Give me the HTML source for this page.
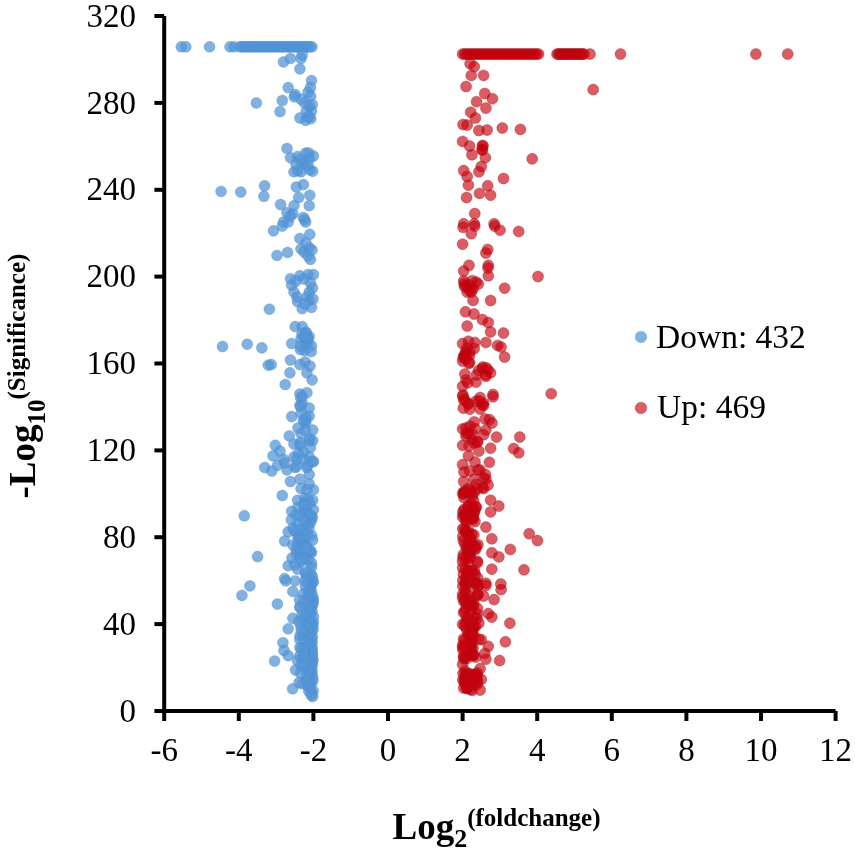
<!DOCTYPE html>
<html><head><meta charset="utf-8"><style>html,body{margin:0;padding:0;background:#fff;width:855px;height:855px;overflow:hidden}svg{display:block;will-change:transform}</style></head>
<body><svg width="855" height="855" viewBox="0 0 855 855">
<style>
.t{font-family:"Liberation Serif",serif;font-size:33px;fill:#000}
.b{font-family:"Liberation Serif",serif;font-weight:bold;fill:#000}
</style>
<rect width="855" height="855" fill="#fff"/>
<g fill="rgb(84,150,215)" fill-opacity="0.74" stroke="rgb(72,135,200)" stroke-opacity="0.3" stroke-width="1"><circle cx="181.3" cy="46.8" r="5.5"/><circle cx="185.8" cy="46.8" r="5.5"/><circle cx="209.6" cy="46.8" r="5.5"/><circle cx="230.0" cy="46.8" r="5.5"/><circle cx="234.0" cy="46.8" r="5.5"/><circle cx="240.0" cy="46.8" r="5.5"/><circle cx="242.0" cy="46.8" r="5.5"/><circle cx="244.0" cy="46.8" r="5.5"/><circle cx="246.0" cy="46.8" r="5.5"/><circle cx="248.0" cy="46.8" r="5.5"/><circle cx="250.0" cy="46.8" r="5.5"/><circle cx="252.0" cy="46.8" r="5.5"/><circle cx="254.0" cy="46.8" r="5.5"/><circle cx="256.0" cy="46.8" r="5.5"/><circle cx="258.0" cy="46.8" r="5.5"/><circle cx="260.0" cy="46.8" r="5.5"/><circle cx="262.0" cy="46.8" r="5.5"/><circle cx="264.0" cy="46.8" r="5.5"/><circle cx="266.0" cy="46.8" r="5.5"/><circle cx="268.0" cy="46.8" r="5.5"/><circle cx="270.0" cy="46.8" r="5.5"/><circle cx="272.0" cy="46.8" r="5.5"/><circle cx="274.0" cy="46.8" r="5.5"/><circle cx="276.0" cy="46.8" r="5.5"/><circle cx="278.0" cy="46.8" r="5.5"/><circle cx="280.0" cy="46.8" r="5.5"/><circle cx="282.0" cy="46.8" r="5.5"/><circle cx="284.0" cy="46.8" r="5.5"/><circle cx="286.0" cy="46.8" r="5.5"/><circle cx="288.0" cy="46.8" r="5.5"/><circle cx="290.0" cy="46.8" r="5.5"/><circle cx="292.0" cy="46.8" r="5.5"/><circle cx="294.0" cy="46.8" r="5.5"/><circle cx="296.0" cy="46.8" r="5.5"/><circle cx="298.0" cy="46.8" r="5.5"/><circle cx="300.0" cy="46.8" r="5.5"/><circle cx="302.0" cy="46.8" r="5.5"/><circle cx="304.0" cy="46.8" r="5.5"/><circle cx="306.0" cy="46.8" r="5.5"/><circle cx="308.0" cy="46.8" r="5.5"/><circle cx="310.0" cy="46.8" r="5.5"/><circle cx="312.0" cy="46.8" r="5.5"/><circle cx="283.5" cy="61.9" r="5.5"/><circle cx="290.5" cy="58.4" r="5.5"/><circle cx="301.0" cy="58.4" r="5.5"/><circle cx="299.9" cy="68.9" r="5.5"/><circle cx="302.2" cy="54.9" r="5.5"/><circle cx="311.5" cy="80.6" r="5.5"/><circle cx="310.4" cy="87.6" r="5.5"/><circle cx="288.2" cy="87.6" r="5.5"/><circle cx="295.2" cy="94.6" r="5.5"/><circle cx="308.0" cy="92.3" r="5.5"/><circle cx="282.3" cy="100.5" r="5.5"/><circle cx="280.0" cy="111.6" r="5.5"/><circle cx="256.4" cy="102.9" r="5.5"/><circle cx="304.5" cy="102.8" r="5.5"/><circle cx="309.2" cy="106.3" r="5.5"/><circle cx="301.0" cy="99.3" r="5.5"/><circle cx="299.9" cy="118.0" r="5.5"/><circle cx="309.2" cy="116.9" r="5.5"/><circle cx="311.5" cy="111.0" r="5.5"/><circle cx="305.7" cy="120.4" r="5.5"/><circle cx="310.7" cy="96.2" r="5.5"/><circle cx="294.3" cy="96.8" r="5.5"/><circle cx="287.0" cy="148.4" r="5.5"/><circle cx="290.5" cy="157.7" r="5.5"/><circle cx="297.5" cy="156.6" r="5.5"/><circle cx="305.7" cy="153.1" r="5.5"/><circle cx="313.3" cy="156.0" r="5.5"/><circle cx="302.2" cy="162.4" r="5.5"/><circle cx="294.0" cy="171.8" r="5.5"/><circle cx="301.0" cy="171.8" r="5.5"/><circle cx="312.7" cy="171.2" r="5.5"/><circle cx="221.1" cy="191.4" r="5.5"/><circle cx="240.8" cy="192.1" r="5.5"/><circle cx="264.6" cy="185.8" r="5.5"/><circle cx="263.9" cy="196.3" r="5.5"/><circle cx="296.3" cy="187.0" r="5.5"/><circle cx="303.4" cy="184.6" r="5.5"/><circle cx="298.7" cy="197.5" r="5.5"/><circle cx="309.8" cy="195.2" r="5.5"/><circle cx="309.2" cy="205.7" r="5.5"/><circle cx="280.6" cy="204.5" r="5.5"/><circle cx="294.0" cy="205.7" r="5.5"/><circle cx="287.0" cy="212.7" r="5.5"/><circle cx="292.8" cy="213.9" r="5.5"/><circle cx="303.4" cy="217.4" r="5.5"/><circle cx="283.5" cy="222.1" r="5.5"/><circle cx="305.7" cy="222.1" r="5.5"/><circle cx="273.5" cy="230.8" r="5.5"/><circle cx="282.3" cy="226.1" r="5.5"/><circle cx="288.2" cy="222.0" r="5.5"/><circle cx="290.5" cy="216.2" r="5.5"/><circle cx="304.5" cy="219.7" r="5.5"/><circle cx="309.8" cy="234.3" r="5.5"/><circle cx="299.9" cy="238.4" r="5.5"/><circle cx="301.0" cy="248.9" r="5.5"/><circle cx="309.2" cy="247.7" r="5.5"/><circle cx="310.4" cy="259.4" r="5.5"/><circle cx="277.0" cy="255.4" r="5.5"/><circle cx="287.6" cy="252.4" r="5.5"/><circle cx="290.5" cy="278.7" r="5.5"/><circle cx="299.9" cy="275.8" r="5.5"/><circle cx="308.0" cy="274.6" r="5.5"/><circle cx="313.4" cy="274.6" r="5.5"/><circle cx="291.7" cy="285.2" r="5.5"/><circle cx="310.4" cy="282.8" r="5.5"/><circle cx="294.0" cy="292.2" r="5.5"/><circle cx="309.2" cy="292.2" r="5.5"/><circle cx="309.2" cy="300.4" r="5.5"/><circle cx="297.5" cy="301.5" r="5.5"/><circle cx="302.2" cy="308.6" r="5.5"/><circle cx="311.5" cy="307.4" r="5.5"/><circle cx="269.4" cy="309.2" r="5.5"/><circle cx="295.2" cy="326.6" r="5.5"/><circle cx="302.2" cy="326.6" r="5.5"/><circle cx="309.2" cy="336.6" r="5.5"/><circle cx="301.0" cy="338.9" r="5.5"/><circle cx="291.7" cy="343.6" r="5.5"/><circle cx="311.5" cy="345.9" r="5.5"/><circle cx="304.5" cy="350.6" r="5.5"/><circle cx="306.0" cy="332.0" r="5.5"/><circle cx="308.0" cy="342.0" r="5.5"/><circle cx="222.5" cy="346.5" r="5.5"/><circle cx="247.2" cy="344.2" r="5.5"/><circle cx="261.8" cy="347.8" r="5.5"/><circle cx="268.3" cy="365.2" r="5.5"/><circle cx="271.2" cy="364.6" r="5.5"/><circle cx="290.5" cy="360.0" r="5.5"/><circle cx="299.9" cy="364.6" r="5.5"/><circle cx="289.9" cy="372.8" r="5.5"/><circle cx="306.9" cy="372.8" r="5.5"/><circle cx="312.1" cy="379.9" r="5.5"/><circle cx="285.2" cy="384.5" r="5.5"/><circle cx="299.9" cy="393.9" r="5.5"/><circle cx="306.9" cy="392.7" r="5.5"/><circle cx="302.2" cy="403.2" r="5.5"/><circle cx="302.2" cy="396.2" r="5.5"/><circle cx="299.9" cy="405.5" r="5.5"/><circle cx="309.2" cy="407.9" r="5.5"/><circle cx="291.7" cy="416.6" r="5.5"/><circle cx="309.2" cy="416.1" r="5.5"/><circle cx="305.7" cy="423.1" r="5.5"/><circle cx="312.7" cy="430.1" r="5.5"/><circle cx="301.0" cy="433.6" r="5.5"/><circle cx="289.3" cy="435.9" r="5.5"/><circle cx="294.0" cy="444.1" r="5.5"/><circle cx="309.2" cy="440.6" r="5.5"/><circle cx="312.7" cy="440.6" r="5.5"/><circle cx="310.4" cy="447.6" r="5.5"/><circle cx="275.3" cy="445.3" r="5.5"/><circle cx="280.0" cy="451.1" r="5.5"/><circle cx="273.0" cy="455.8" r="5.5"/><circle cx="283.5" cy="459.3" r="5.5"/><circle cx="294.0" cy="457.0" r="5.5"/><circle cx="309.2" cy="457.0" r="5.5"/><circle cx="313.4" cy="461.7" r="5.5"/><circle cx="264.8" cy="467.5" r="5.5"/><circle cx="271.8" cy="471.0" r="5.5"/><circle cx="277.6" cy="465.2" r="5.5"/><circle cx="287.0" cy="469.9" r="5.5"/><circle cx="295.2" cy="467.5" r="5.5"/><circle cx="306.9" cy="467.5" r="5.5"/><circle cx="309.2" cy="474.5" r="5.5"/><circle cx="290.5" cy="481.5" r="5.5"/><circle cx="299.9" cy="479.2" r="5.5"/><circle cx="309.2" cy="483.9" r="5.5"/><circle cx="301.0" cy="488.6" r="5.5"/><circle cx="313.4" cy="489.7" r="5.5"/><circle cx="282.3" cy="495.5" r="5.5"/><circle cx="305.0" cy="430.0" r="5.5"/><circle cx="300.0" cy="445.0" r="5.5"/><circle cx="303.0" cy="452.0" r="5.5"/><circle cx="298.0" cy="428.0" r="5.5"/><circle cx="285.0" cy="463.0" r="5.5"/><circle cx="244.3" cy="515.8" r="5.5"/><circle cx="257.6" cy="556.6" r="5.5"/><circle cx="249.9" cy="585.9" r="5.5"/><circle cx="241.9" cy="595.4" r="5.5"/><circle cx="297.5" cy="500.2" r="5.5"/><circle cx="291.7" cy="511.3" r="5.5"/><circle cx="306.9" cy="489.7" r="5.5"/><circle cx="312.7" cy="500.2" r="5.5"/><circle cx="313.4" cy="509.6" r="5.5"/><circle cx="304.5" cy="508.4" r="5.5"/><circle cx="297.5" cy="523.6" r="5.5"/><circle cx="309.2" cy="523.6" r="5.5"/><circle cx="288.2" cy="531.8" r="5.5"/><circle cx="284.6" cy="541.1" r="5.5"/><circle cx="301.0" cy="534.1" r="5.5"/><circle cx="311.5" cy="535.3" r="5.5"/><circle cx="312.7" cy="540.0" r="5.5"/><circle cx="297.5" cy="544.6" r="5.5"/><circle cx="306.9" cy="545.8" r="5.5"/><circle cx="296.3" cy="554.0" r="5.5"/><circle cx="311.5" cy="552.8" r="5.5"/><circle cx="304.5" cy="558.7" r="5.5"/><circle cx="288.2" cy="565.7" r="5.5"/><circle cx="297.5" cy="569.2" r="5.5"/><circle cx="311.5" cy="566.9" r="5.5"/><circle cx="305.7" cy="573.9" r="5.5"/><circle cx="284.6" cy="578.6" r="5.5"/><circle cx="295.2" cy="580.9" r="5.5"/><circle cx="312.7" cy="582.1" r="5.5"/><circle cx="300.0" cy="515.0" r="5.5"/><circle cx="306.0" cy="520.0" r="5.5"/><circle cx="293.0" cy="528.0" r="5.5"/><circle cx="304.0" cy="540.0" r="5.5"/><circle cx="300.0" cy="550.0" r="5.5"/><circle cx="308.0" cy="560.0" r="5.5"/><circle cx="300.0" cy="562.0" r="5.5"/><circle cx="292.0" cy="558.0" r="5.5"/><circle cx="305.0" cy="498.0" r="5.5"/><circle cx="303.0" cy="528.0" r="5.5"/><circle cx="298.0" cy="537.0" r="5.5"/><circle cx="307.0" cy="512.0" r="5.5"/><circle cx="277.4" cy="604.0" r="5.5"/><circle cx="274.6" cy="661.1" r="5.5"/><circle cx="285.8" cy="580.8" r="5.5"/><circle cx="292.8" cy="591.4" r="5.5"/><circle cx="299.9" cy="606.6" r="5.5"/><circle cx="292.8" cy="618.3" r="5.5"/><circle cx="288.2" cy="628.8" r="5.5"/><circle cx="283.0" cy="642.7" r="5.5"/><circle cx="284.0" cy="650.5" r="5.5"/><circle cx="288.2" cy="655.7" r="5.5"/><circle cx="299.9" cy="647.5" r="5.5"/><circle cx="297.5" cy="660.4" r="5.5"/><circle cx="295.5" cy="670.0" r="5.5"/><circle cx="301.0" cy="626.5" r="5.5"/><circle cx="299.9" cy="635.8" r="5.5"/><circle cx="292.6" cy="688.8" r="5.5"/><circle cx="312.7" cy="696.5" r="5.5"/><circle cx="311.0" cy="574.0" r="5.5"/><circle cx="312.6" cy="577.1" r="5.5"/><circle cx="310.7" cy="579.7" r="5.5"/><circle cx="313.3" cy="581.9" r="5.5"/><circle cx="311.0" cy="584.5" r="5.5"/><circle cx="310.8" cy="586.6" r="5.5"/><circle cx="310.3" cy="589.0" r="5.5"/><circle cx="311.4" cy="591.8" r="5.5"/><circle cx="308.3" cy="593.9" r="5.5"/><circle cx="312.8" cy="596.6" r="5.5"/><circle cx="313.2" cy="599.4" r="5.5"/><circle cx="313.1" cy="602.0" r="5.5"/><circle cx="312.9" cy="604.1" r="5.5"/><circle cx="312.0" cy="606.1" r="5.5"/><circle cx="309.8" cy="608.7" r="5.5"/><circle cx="312.0" cy="611.3" r="5.5"/><circle cx="310.5" cy="614.1" r="5.5"/><circle cx="313.4" cy="616.6" r="5.5"/><circle cx="306.8" cy="619.0" r="5.5"/><circle cx="313.3" cy="622.0" r="5.5"/><circle cx="312.8" cy="624.8" r="5.5"/><circle cx="312.1" cy="627.2" r="5.5"/><circle cx="313.2" cy="629.2" r="5.5"/><circle cx="311.4" cy="632.3" r="5.5"/><circle cx="309.7" cy="634.7" r="5.5"/><circle cx="312.4" cy="636.7" r="5.5"/><circle cx="311.5" cy="639.0" r="5.5"/><circle cx="312.2" cy="642.2" r="5.5"/><circle cx="310.9" cy="644.6" r="5.5"/><circle cx="312.2" cy="647.6" r="5.5"/><circle cx="311.9" cy="649.9" r="5.5"/><circle cx="312.5" cy="653.0" r="5.5"/><circle cx="312.3" cy="656.0" r="5.5"/><circle cx="312.4" cy="658.1" r="5.5"/><circle cx="313.0" cy="660.2" r="5.5"/><circle cx="312.2" cy="662.8" r="5.5"/><circle cx="312.2" cy="665.4" r="5.5"/><circle cx="310.4" cy="667.5" r="5.5"/><circle cx="311.8" cy="670.3" r="5.5"/><circle cx="312.0" cy="672.5" r="5.5"/><circle cx="309.9" cy="674.9" r="5.5"/><circle cx="312.7" cy="677.2" r="5.5"/><circle cx="312.9" cy="680.3" r="5.5"/><circle cx="311.5" cy="683.3" r="5.5"/><circle cx="308.5" cy="686.1" r="5.5"/><circle cx="309.8" cy="688.3" r="5.5"/><circle cx="313.1" cy="690.7" r="5.5"/><circle cx="311.6" cy="693.0" r="5.5"/><circle cx="311.2" cy="695.1" r="5.5"/><circle cx="306.2" cy="578.0" r="5.5"/><circle cx="305.2" cy="581.7" r="5.5"/><circle cx="305.4" cy="586.7" r="5.5"/><circle cx="308.1" cy="590.8" r="5.5"/><circle cx="303.1" cy="594.2" r="5.5"/><circle cx="307.7" cy="599.0" r="5.5"/><circle cx="303.3" cy="602.5" r="5.5"/><circle cx="308.6" cy="607.0" r="5.5"/><circle cx="308.7" cy="610.4" r="5.5"/><circle cx="306.2" cy="615.1" r="5.5"/><circle cx="302.7" cy="619.0" r="5.5"/><circle cx="308.7" cy="622.0" r="5.5"/><circle cx="306.9" cy="625.5" r="5.5"/><circle cx="307.8" cy="629.0" r="5.5"/><circle cx="304.1" cy="633.2" r="5.5"/><circle cx="307.0" cy="636.6" r="5.5"/><circle cx="303.6" cy="639.7" r="5.5"/><circle cx="308.0" cy="643.8" r="5.5"/><circle cx="304.0" cy="648.1" r="5.5"/><circle cx="303.4" cy="652.9" r="5.5"/><circle cx="303.9" cy="655.9" r="5.5"/><circle cx="302.4" cy="659.8" r="5.5"/><circle cx="304.6" cy="663.2" r="5.5"/><circle cx="302.9" cy="667.3" r="5.5"/><circle cx="308.2" cy="671.0" r="5.5"/><circle cx="306.6" cy="676.0" r="5.5"/><circle cx="306.1" cy="680.4" r="5.5"/><circle cx="302.2" cy="683.7" r="5.5"/><circle cx="308.4" cy="686.7" r="5.5"/><circle cx="308.7" cy="691.1" r="5.5"/><circle cx="299.5" cy="600.0" r="5.5"/><circle cx="300.1" cy="607.9" r="5.5"/><circle cx="302.0" cy="615.2" r="5.5"/><circle cx="298.8" cy="621.5" r="5.5"/><circle cx="301.3" cy="630.5" r="5.5"/><circle cx="299.9" cy="639.4" r="5.5"/><circle cx="301.4" cy="648.6" r="5.5"/><circle cx="299.8" cy="656.0" r="5.5"/><circle cx="301.1" cy="665.6" r="5.5"/><circle cx="300.5" cy="673.3" r="5.5"/><circle cx="299.0" cy="682.7" r="5.5"/><circle cx="299.6" cy="540.7" r="5.5"/><circle cx="304.6" cy="503.0" r="5.5"/><circle cx="305.3" cy="571.5" r="5.5"/><circle cx="310.7" cy="551.6" r="5.5"/><circle cx="299.7" cy="552.1" r="5.5"/><circle cx="304.0" cy="530.0" r="5.5"/><circle cx="309.8" cy="503.3" r="5.5"/><circle cx="307.8" cy="499.2" r="5.5"/><circle cx="304.5" cy="533.1" r="5.5"/><circle cx="296.2" cy="549.4" r="5.5"/><circle cx="302.1" cy="543.1" r="5.5"/><circle cx="311.6" cy="516.2" r="5.5"/><circle cx="291.3" cy="519.6" r="5.5"/><circle cx="306.2" cy="512.2" r="5.5"/><circle cx="294.8" cy="564.9" r="5.5"/><circle cx="305.8" cy="530.1" r="5.5"/><circle cx="311.0" cy="521.5" r="5.5"/><circle cx="305.9" cy="511.9" r="5.5"/><circle cx="300.7" cy="557.4" r="5.5"/><circle cx="311.5" cy="563.0" r="5.5"/><circle cx="299.6" cy="540.7" r="5.5"/><circle cx="298.1" cy="507.2" r="5.5"/><circle cx="302.1" cy="559.8" r="5.5"/><circle cx="310.0" cy="550.3" r="5.5"/><circle cx="312.3" cy="517.8" r="5.5"/><circle cx="294.8" cy="530.8" r="5.5"/><circle cx="303.7" cy="336.3" r="5.5"/><circle cx="305.5" cy="344.5" r="5.5"/><circle cx="306.6" cy="338.3" r="5.5"/><circle cx="311.2" cy="351.6" r="5.5"/><circle cx="306.1" cy="333.5" r="5.5"/><circle cx="300.4" cy="349.5" r="5.5"/><circle cx="300.6" cy="346.2" r="5.5"/><circle cx="307.6" cy="338.2" r="5.5"/><circle cx="309.8" cy="438.6" r="5.5"/><circle cx="298.4" cy="453.5" r="5.5"/><circle cx="296.4" cy="466.2" r="5.5"/><circle cx="300.1" cy="442.8" r="5.5"/><circle cx="296.8" cy="459.4" r="5.5"/><circle cx="303.8" cy="459.4" r="5.5"/><circle cx="307.4" cy="465.5" r="5.5"/><circle cx="312.7" cy="461.3" r="5.5"/><circle cx="301.1" cy="413.2" r="5.5"/><circle cx="300.8" cy="398.3" r="5.5"/><circle cx="305.3" cy="420.9" r="5.5"/><circle cx="300.8" cy="406.7" r="5.5"/><circle cx="303.3" cy="420.3" r="5.5"/><circle cx="306.0" cy="417.7" r="5.5"/><circle cx="309.2" cy="158.7" r="5.5"/><circle cx="309.8" cy="169.9" r="5.5"/><circle cx="297.5" cy="170.5" r="5.5"/><circle cx="308.6" cy="152.9" r="5.5"/><circle cx="303.9" cy="163.8" r="5.5"/><circle cx="312.2" cy="104.4" r="5.5"/><circle cx="307.6" cy="117.0" r="5.5"/><circle cx="310.7" cy="118.6" r="5.5"/><circle cx="306.2" cy="111.3" r="5.5"/><circle cx="296.0" cy="515.0" r="5.5"/><circle cx="303.0" cy="520.0" r="5.5"/><circle cx="309.0" cy="528.0" r="5.5"/><circle cx="299.0" cy="538.0" r="5.5"/><circle cx="306.0" cy="548.0" r="5.5"/><circle cx="293.0" cy="545.0" r="5.5"/><circle cx="310.0" cy="515.0" r="5.5"/><circle cx="304.0" cy="505.0" r="5.5"/><circle cx="300.0" cy="530.0" r="5.5"/><circle cx="307.0" cy="535.0" r="5.5"/><circle cx="304.0" cy="252.0" r="5.5"/><circle cx="308.0" cy="256.0" r="5.5"/><circle cx="302.0" cy="334.0" r="5.5"/><circle cx="307.0" cy="338.0" r="5.5"/><circle cx="305.0" cy="362.0" r="5.5"/><circle cx="310.0" cy="366.0" r="5.5"/><circle cx="296.0" cy="281.0" r="5.5"/><circle cx="304.0" cy="279.0" r="5.5"/><circle cx="307.0" cy="297.0" r="5.5"/><circle cx="297.0" cy="297.0" r="5.5"/><circle cx="312.5" cy="288.0" r="5.5"/><circle cx="313.0" cy="299.0" r="5.5"/><circle cx="305.0" cy="304.0" r="5.5"/><circle cx="300.0" cy="160.0" r="5.5"/><circle cx="308.0" cy="165.0" r="5.5"/><circle cx="296.0" cy="164.0" r="5.5"/><circle cx="306.0" cy="243.0" r="5.5"/><circle cx="312.0" cy="250.0" r="5.5"/></g><g fill="rgb(200,0,12)" fill-opacity="0.64" stroke="rgb(150,20,30)" stroke-opacity="0.35" stroke-width="1"><circle cx="462.6" cy="54.1" r="5.5"/><circle cx="464.6" cy="54.1" r="5.5"/><circle cx="466.6" cy="54.1" r="5.5"/><circle cx="468.6" cy="54.1" r="5.5"/><circle cx="470.6" cy="54.1" r="5.5"/><circle cx="472.6" cy="54.1" r="5.5"/><circle cx="474.6" cy="54.1" r="5.5"/><circle cx="476.6" cy="54.1" r="5.5"/><circle cx="478.6" cy="54.1" r="5.5"/><circle cx="480.6" cy="54.1" r="5.5"/><circle cx="482.6" cy="54.1" r="5.5"/><circle cx="484.6" cy="54.1" r="5.5"/><circle cx="486.6" cy="54.1" r="5.5"/><circle cx="488.6" cy="54.1" r="5.5"/><circle cx="490.6" cy="54.1" r="5.5"/><circle cx="492.6" cy="54.1" r="5.5"/><circle cx="494.6" cy="54.1" r="5.5"/><circle cx="496.6" cy="54.1" r="5.5"/><circle cx="498.6" cy="54.1" r="5.5"/><circle cx="500.6" cy="54.1" r="5.5"/><circle cx="502.6" cy="54.1" r="5.5"/><circle cx="504.6" cy="54.1" r="5.5"/><circle cx="506.6" cy="54.1" r="5.5"/><circle cx="508.6" cy="54.1" r="5.5"/><circle cx="510.6" cy="54.1" r="5.5"/><circle cx="512.6" cy="54.1" r="5.5"/><circle cx="514.6" cy="54.1" r="5.5"/><circle cx="516.6" cy="54.1" r="5.5"/><circle cx="518.6" cy="54.1" r="5.5"/><circle cx="520.6" cy="54.1" r="5.5"/><circle cx="522.6" cy="54.1" r="5.5"/><circle cx="524.6" cy="54.1" r="5.5"/><circle cx="526.6" cy="54.1" r="5.5"/><circle cx="528.6" cy="54.1" r="5.5"/><circle cx="530.6" cy="54.1" r="5.5"/><circle cx="532.6" cy="54.1" r="5.5"/><circle cx="534.6" cy="54.1" r="5.5"/><circle cx="536.6" cy="54.1" r="5.5"/><circle cx="538.6" cy="54.1" r="5.5"/><circle cx="557.0" cy="54.1" r="5.5"/><circle cx="558.5" cy="54.1" r="5.5"/><circle cx="560.0" cy="54.1" r="5.5"/><circle cx="561.5" cy="54.1" r="5.5"/><circle cx="563.0" cy="54.1" r="5.5"/><circle cx="564.5" cy="54.1" r="5.5"/><circle cx="566.0" cy="54.1" r="5.5"/><circle cx="567.5" cy="54.1" r="5.5"/><circle cx="569.0" cy="54.1" r="5.5"/><circle cx="570.5" cy="54.1" r="5.5"/><circle cx="572.0" cy="54.1" r="5.5"/><circle cx="573.5" cy="54.1" r="5.5"/><circle cx="575.0" cy="54.1" r="5.5"/><circle cx="576.5" cy="54.1" r="5.5"/><circle cx="578.0" cy="54.1" r="5.5"/><circle cx="579.5" cy="54.1" r="5.5"/><circle cx="581.0" cy="54.1" r="5.5"/><circle cx="582.5" cy="54.1" r="5.5"/><circle cx="584.0" cy="54.1" r="5.5"/><circle cx="590.0" cy="54.1" r="5.5"/><circle cx="620.5" cy="54.1" r="5.5"/><circle cx="755.9" cy="54.1" r="5.5"/><circle cx="787.7" cy="54.1" r="5.5"/><circle cx="593.2" cy="89.6" r="5.5"/><circle cx="470.1" cy="63.7" r="5.5"/><circle cx="474.2" cy="66.6" r="5.5"/><circle cx="471.3" cy="75.4" r="5.5"/><circle cx="483.6" cy="75.4" r="5.5"/><circle cx="466.1" cy="86.5" r="5.5"/><circle cx="484.8" cy="93.5" r="5.5"/><circle cx="492.4" cy="98.7" r="5.5"/><circle cx="476.6" cy="101.7" r="5.5"/><circle cx="485.9" cy="108.1" r="5.5"/><circle cx="470.7" cy="112.2" r="5.5"/><circle cx="475.4" cy="118.0" r="5.5"/><circle cx="463.1" cy="124.5" r="5.5"/><circle cx="467.2" cy="125.1" r="5.5"/><circle cx="478.9" cy="130.5" r="5.5"/><circle cx="487.1" cy="130.0" r="5.5"/><circle cx="502.3" cy="128.0" r="5.5"/><circle cx="520.4" cy="129.4" r="5.5"/><circle cx="462.6" cy="141.4" r="5.5"/><circle cx="469.6" cy="146.1" r="5.5"/><circle cx="482.4" cy="145.5" r="5.5"/><circle cx="482.4" cy="149.6" r="5.5"/><circle cx="471.9" cy="154.8" r="5.5"/><circle cx="485.4" cy="157.7" r="5.5"/><circle cx="532.2" cy="158.8" r="5.5"/><circle cx="481.3" cy="166.5" r="5.5"/><circle cx="463.7" cy="170.6" r="5.5"/><circle cx="478.9" cy="171.8" r="5.5"/><circle cx="467.2" cy="176.5" r="5.5"/><circle cx="503.5" cy="178.5" r="5.5"/><circle cx="468.4" cy="185.2" r="5.5"/><circle cx="487.7" cy="185.8" r="5.5"/><circle cx="479.5" cy="193.4" r="5.5"/><circle cx="490.6" cy="195.2" r="5.5"/><circle cx="466.6" cy="197.5" r="5.5"/><circle cx="474.8" cy="213.5" r="5.5"/><circle cx="463.7" cy="223.8" r="5.5"/><circle cx="474.2" cy="223.8" r="5.5"/><circle cx="494.1" cy="223.8" r="5.5"/><circle cx="463.1" cy="227.3" r="5.5"/><circle cx="474.8" cy="226.1" r="5.5"/><circle cx="471.3" cy="233.7" r="5.5"/><circle cx="494.7" cy="226.1" r="5.5"/><circle cx="500.0" cy="230.2" r="5.5"/><circle cx="518.7" cy="231.4" r="5.5"/><circle cx="462.6" cy="244.2" r="5.5"/><circle cx="487.7" cy="249.5" r="5.5"/><circle cx="485.9" cy="253.0" r="5.5"/><circle cx="469.0" cy="265.3" r="5.5"/><circle cx="463.7" cy="271.1" r="5.5"/><circle cx="488.3" cy="265.3" r="5.5"/><circle cx="488.3" cy="275.8" r="5.5"/><circle cx="538.0" cy="276.5" r="5.5"/><circle cx="464.3" cy="283.4" r="5.5"/><circle cx="473.1" cy="288.7" r="5.5"/><circle cx="478.3" cy="284.0" r="5.5"/><circle cx="467.2" cy="292.2" r="5.5"/><circle cx="473.1" cy="300.4" r="5.5"/><circle cx="504.6" cy="288.2" r="5.5"/><circle cx="490.6" cy="300.5" r="5.5"/><circle cx="465.5" cy="311.8" r="5.5"/><circle cx="474.0" cy="314.0" r="5.5"/><circle cx="482.4" cy="319.6" r="5.5"/><circle cx="488.3" cy="322.5" r="5.5"/><circle cx="467.2" cy="326.1" r="5.5"/><circle cx="490.6" cy="331.9" r="5.5"/><circle cx="503.5" cy="333.1" r="5.5"/><circle cx="462.6" cy="343.6" r="5.5"/><circle cx="468.4" cy="341.3" r="5.5"/><circle cx="474.8" cy="342.4" r="5.5"/><circle cx="485.9" cy="342.4" r="5.5"/><circle cx="497.6" cy="345.4" r="5.5"/><circle cx="501.1" cy="347.1" r="5.5"/><circle cx="465.5" cy="351.8" r="5.5"/><circle cx="462.6" cy="361.1" r="5.5"/><circle cx="469.6" cy="362.3" r="5.5"/><circle cx="504.6" cy="357.0" r="5.5"/><circle cx="482.4" cy="368.7" r="5.5"/><circle cx="490.6" cy="372.8" r="5.5"/><circle cx="485.9" cy="376.3" r="5.5"/><circle cx="464.9" cy="374.0" r="5.5"/><circle cx="476.0" cy="382.2" r="5.5"/><circle cx="462.6" cy="386.3" r="5.5"/><circle cx="467.8" cy="382.8" r="5.5"/><circle cx="463.1" cy="395.1" r="5.5"/><circle cx="493.0" cy="394.5" r="5.5"/><circle cx="480.1" cy="397.4" r="5.5"/><circle cx="468.4" cy="403.2" r="5.5"/><circle cx="483.6" cy="403.2" r="5.5"/><circle cx="551.2" cy="393.7" r="5.5"/><circle cx="467.0" cy="348.0" r="5.5"/><circle cx="464.0" cy="356.0" r="5.5"/><circle cx="488.0" cy="370.0" r="5.5"/><circle cx="466.0" cy="380.0" r="5.5"/><circle cx="462.6" cy="396.2" r="5.5"/><circle cx="468.4" cy="404.4" r="5.5"/><circle cx="478.9" cy="400.8" r="5.5"/><circle cx="483.6" cy="405.5" r="5.5"/><circle cx="480.1" cy="409.0" r="5.5"/><circle cx="493.0" cy="396.8" r="5.5"/><circle cx="474.2" cy="421.9" r="5.5"/><circle cx="489.4" cy="419.6" r="5.5"/><circle cx="462.6" cy="428.9" r="5.5"/><circle cx="468.4" cy="433.6" r="5.5"/><circle cx="485.9" cy="430.1" r="5.5"/><circle cx="483.6" cy="434.8" r="5.5"/><circle cx="496.5" cy="437.1" r="5.5"/><circle cx="519.8" cy="437.1" r="5.5"/><circle cx="471.9" cy="439.4" r="5.5"/><circle cx="462.6" cy="445.3" r="5.5"/><circle cx="474.2" cy="443.0" r="5.5"/><circle cx="490.6" cy="448.2" r="5.5"/><circle cx="478.9" cy="451.1" r="5.5"/><circle cx="513.7" cy="448.6" r="5.5"/><circle cx="518.8" cy="452.8" r="5.5"/><circle cx="468.4" cy="455.8" r="5.5"/><circle cx="462.6" cy="464.6" r="5.5"/><circle cx="489.4" cy="462.3" r="5.5"/><circle cx="469.6" cy="471.0" r="5.5"/><circle cx="480.1" cy="469.9" r="5.5"/><circle cx="485.4" cy="474.5" r="5.5"/><circle cx="463.7" cy="481.5" r="5.5"/><circle cx="474.2" cy="479.2" r="5.5"/><circle cx="485.9" cy="479.2" r="5.5"/><circle cx="468.4" cy="488.6" r="5.5"/><circle cx="482.4" cy="487.4" r="5.5"/><circle cx="463.7" cy="492.1" r="5.5"/><circle cx="474.2" cy="492.7" r="5.5"/><circle cx="470.0" cy="426.0" r="5.5"/><circle cx="466.0" cy="436.0" r="5.5"/><circle cx="469.0" cy="446.0" r="5.5"/><circle cx="475.0" cy="462.0" r="5.5"/><circle cx="464.0" cy="472.0" r="5.5"/><circle cx="483.6" cy="488.5" r="5.5"/><circle cx="490.6" cy="500.2" r="5.5"/><circle cx="498.8" cy="506.1" r="5.5"/><circle cx="490.6" cy="511.9" r="5.5"/><circle cx="485.9" cy="527.1" r="5.5"/><circle cx="491.8" cy="538.8" r="5.5"/><circle cx="510.3" cy="549.4" r="5.5"/><circle cx="529.2" cy="533.7" r="5.5"/><circle cx="537.5" cy="540.6" r="5.5"/><circle cx="491.8" cy="552.8" r="5.5"/><circle cx="498.8" cy="556.9" r="5.5"/><circle cx="491.8" cy="569.2" r="5.5"/><circle cx="524.0" cy="569.8" r="5.5"/><circle cx="485.9" cy="583.2" r="5.5"/><circle cx="500.8" cy="584.0" r="5.5"/><circle cx="485.9" cy="585.5" r="5.5"/><circle cx="501.1" cy="589.6" r="5.5"/><circle cx="483.6" cy="596.1" r="5.5"/><circle cx="494.1" cy="599.6" r="5.5"/><circle cx="488.3" cy="613.6" r="5.5"/><circle cx="491.8" cy="617.1" r="5.5"/><circle cx="478.9" cy="623.0" r="5.5"/><circle cx="509.9" cy="623.2" r="5.5"/><circle cx="471.9" cy="620.6" r="5.5"/><circle cx="478.9" cy="639.3" r="5.5"/><circle cx="488.3" cy="646.3" r="5.5"/><circle cx="505.4" cy="641.8" r="5.5"/><circle cx="484.8" cy="653.4" r="5.5"/><circle cx="485.9" cy="659.2" r="5.5"/><circle cx="499.6" cy="660.6" r="5.5"/><circle cx="480.1" cy="668.6" r="5.5"/><circle cx="481.3" cy="639.7" r="5.5"/><circle cx="481.3" cy="679.4" r="5.5"/><circle cx="480.1" cy="690.0" r="5.5"/><circle cx="471.0" cy="637.5" r="5.5"/><circle cx="474.1" cy="679.1" r="5.5"/><circle cx="473.1" cy="674.9" r="5.5"/><circle cx="462.8" cy="580.4" r="5.5"/><circle cx="477.0" cy="618.3" r="5.5"/><circle cx="476.1" cy="507.4" r="5.5"/><circle cx="468.4" cy="535.0" r="5.5"/><circle cx="469.6" cy="602.8" r="5.5"/><circle cx="462.7" cy="528.9" r="5.5"/><circle cx="465.6" cy="673.7" r="5.5"/><circle cx="473.6" cy="517.0" r="5.5"/><circle cx="474.1" cy="512.7" r="5.5"/><circle cx="470.9" cy="510.2" r="5.5"/><circle cx="462.6" cy="664.4" r="5.5"/><circle cx="464.6" cy="528.6" r="5.5"/><circle cx="465.7" cy="683.0" r="5.5"/><circle cx="469.5" cy="624.3" r="5.5"/><circle cx="464.6" cy="678.8" r="5.5"/><circle cx="472.2" cy="684.1" r="5.5"/><circle cx="476.0" cy="545.8" r="5.5"/><circle cx="466.7" cy="518.4" r="5.5"/><circle cx="463.9" cy="497.5" r="5.5"/><circle cx="465.9" cy="608.8" r="5.5"/><circle cx="462.6" cy="624.3" r="5.5"/><circle cx="466.4" cy="548.2" r="5.5"/><circle cx="474.5" cy="583.5" r="5.5"/><circle cx="466.1" cy="583.6" r="5.5"/><circle cx="472.4" cy="495.8" r="5.5"/><circle cx="477.6" cy="488.7" r="5.5"/><circle cx="462.7" cy="647.1" r="5.5"/><circle cx="466.8" cy="603.8" r="5.5"/><circle cx="462.6" cy="493.7" r="5.5"/><circle cx="464.3" cy="681.7" r="5.5"/><circle cx="464.5" cy="640.4" r="5.5"/><circle cx="476.7" cy="679.0" r="5.5"/><circle cx="466.5" cy="557.4" r="5.5"/><circle cx="469.3" cy="644.5" r="5.5"/><circle cx="463.5" cy="638.9" r="5.5"/><circle cx="462.8" cy="679.8" r="5.5"/><circle cx="463.3" cy="554.5" r="5.5"/><circle cx="470.8" cy="674.0" r="5.5"/><circle cx="466.4" cy="675.3" r="5.5"/><circle cx="469.6" cy="548.7" r="5.5"/><circle cx="466.1" cy="520.7" r="5.5"/><circle cx="463.2" cy="514.8" r="5.5"/><circle cx="472.2" cy="690.3" r="5.5"/><circle cx="464.0" cy="494.1" r="5.5"/><circle cx="477.8" cy="594.4" r="5.5"/><circle cx="467.4" cy="533.1" r="5.5"/><circle cx="470.5" cy="655.0" r="5.5"/><circle cx="468.2" cy="571.3" r="5.5"/><circle cx="463.0" cy="673.6" r="5.5"/><circle cx="462.8" cy="586.2" r="5.5"/><circle cx="474.9" cy="511.0" r="5.5"/><circle cx="472.9" cy="680.6" r="5.5"/><circle cx="471.1" cy="647.1" r="5.5"/><circle cx="463.4" cy="574.0" r="5.5"/><circle cx="463.9" cy="658.9" r="5.5"/><circle cx="465.8" cy="577.8" r="5.5"/><circle cx="477.6" cy="577.9" r="5.5"/><circle cx="468.7" cy="635.0" r="5.5"/><circle cx="468.6" cy="544.2" r="5.5"/><circle cx="467.4" cy="514.3" r="5.5"/><circle cx="467.0" cy="688.6" r="5.5"/><circle cx="477.3" cy="613.8" r="5.5"/><circle cx="468.9" cy="554.1" r="5.5"/><circle cx="463.3" cy="540.4" r="5.5"/><circle cx="466.7" cy="646.7" r="5.5"/><circle cx="473.7" cy="627.8" r="5.5"/><circle cx="471.7" cy="641.2" r="5.5"/><circle cx="466.8" cy="629.8" r="5.5"/><circle cx="465.6" cy="584.5" r="5.5"/><circle cx="473.6" cy="627.0" r="5.5"/><circle cx="465.8" cy="679.7" r="5.5"/><circle cx="471.4" cy="604.2" r="5.5"/><circle cx="462.6" cy="597.2" r="5.5"/><circle cx="465.2" cy="623.0" r="5.5"/><circle cx="468.3" cy="653.1" r="5.5"/><circle cx="471.4" cy="649.1" r="5.5"/><circle cx="466.5" cy="617.3" r="5.5"/><circle cx="473.0" cy="655.4" r="5.5"/><circle cx="466.6" cy="658.5" r="5.5"/><circle cx="475.5" cy="626.5" r="5.5"/><circle cx="477.6" cy="682.0" r="5.5"/><circle cx="469.2" cy="593.6" r="5.5"/><circle cx="464.1" cy="657.2" r="5.5"/><circle cx="476.9" cy="582.8" r="5.5"/><circle cx="472.2" cy="633.0" r="5.5"/><circle cx="472.9" cy="519.6" r="5.5"/><circle cx="473.8" cy="604.2" r="5.5"/><circle cx="471.7" cy="571.1" r="5.5"/><circle cx="471.0" cy="644.4" r="5.5"/><circle cx="471.2" cy="633.1" r="5.5"/><circle cx="462.7" cy="517.1" r="5.5"/><circle cx="467.9" cy="618.6" r="5.5"/><circle cx="464.8" cy="626.0" r="5.5"/><circle cx="471.1" cy="492.7" r="5.5"/><circle cx="468.4" cy="530.8" r="5.5"/><circle cx="462.9" cy="511.6" r="5.5"/><circle cx="466.1" cy="521.6" r="5.5"/><circle cx="464.4" cy="491.4" r="5.5"/><circle cx="468.3" cy="562.7" r="5.5"/><circle cx="470.8" cy="606.2" r="5.5"/><circle cx="465.0" cy="671.0" r="5.5"/><circle cx="462.6" cy="567.9" r="5.5"/><circle cx="465.5" cy="568.9" r="5.5"/><circle cx="463.5" cy="656.1" r="5.5"/><circle cx="466.9" cy="491.5" r="5.5"/><circle cx="470.8" cy="503.6" r="5.5"/><circle cx="469.6" cy="554.3" r="5.5"/><circle cx="470.2" cy="682.4" r="5.5"/><circle cx="474.5" cy="570.8" r="5.5"/><circle cx="474.4" cy="617.0" r="5.5"/><circle cx="466.8" cy="513.4" r="5.5"/><circle cx="470.5" cy="600.7" r="5.5"/><circle cx="477.2" cy="684.4" r="5.5"/><circle cx="470.7" cy="556.7" r="5.5"/><circle cx="476.0" cy="484.2" r="5.5"/><circle cx="463.5" cy="601.1" r="5.5"/><circle cx="470.8" cy="513.1" r="5.5"/><circle cx="466.9" cy="573.4" r="5.5"/><circle cx="464.8" cy="544.3" r="5.5"/><circle cx="477.5" cy="562.6" r="5.5"/><circle cx="477.3" cy="673.1" r="5.5"/><circle cx="470.5" cy="537.8" r="5.5"/><circle cx="477.7" cy="586.7" r="5.5"/><circle cx="467.5" cy="550.1" r="5.5"/><circle cx="477.8" cy="585.8" r="5.5"/><circle cx="465.7" cy="582.7" r="5.5"/><circle cx="463.6" cy="612.7" r="5.5"/><circle cx="468.0" cy="544.7" r="5.5"/><circle cx="473.9" cy="655.1" r="5.5"/><circle cx="462.7" cy="594.2" r="5.5"/><circle cx="465.5" cy="677.6" r="5.5"/><circle cx="473.9" cy="534.9" r="5.5"/><circle cx="465.4" cy="516.0" r="5.5"/><circle cx="477.9" cy="544.7" r="5.5"/><circle cx="470.7" cy="582.2" r="5.5"/><circle cx="471.4" cy="609.0" r="5.5"/><circle cx="473.1" cy="508.5" r="5.5"/><circle cx="473.5" cy="546.2" r="5.5"/><circle cx="469.4" cy="553.6" r="5.5"/><circle cx="465.8" cy="593.7" r="5.5"/><circle cx="468.3" cy="558.7" r="5.5"/><circle cx="473.2" cy="606.3" r="5.5"/><circle cx="462.8" cy="536.3" r="5.5"/><circle cx="468.2" cy="673.7" r="5.5"/><circle cx="475.9" cy="596.9" r="5.5"/><circle cx="462.7" cy="645.1" r="5.5"/><circle cx="467.7" cy="603.2" r="5.5"/><circle cx="473.9" cy="684.4" r="5.5"/><circle cx="470.3" cy="689.4" r="5.5"/><circle cx="468.7" cy="680.1" r="5.5"/><circle cx="476.1" cy="676.5" r="5.5"/><circle cx="467.3" cy="687.9" r="5.5"/><circle cx="463.7" cy="688.1" r="5.5"/><circle cx="473.6" cy="680.8" r="5.5"/><circle cx="467.2" cy="687.1" r="5.5"/><circle cx="477.1" cy="675.6" r="5.5"/><circle cx="470.2" cy="682.9" r="5.5"/><circle cx="470.5" cy="679.0" r="5.5"/><circle cx="465.0" cy="683.5" r="5.5"/><circle cx="475.5" cy="674.2" r="5.5"/><circle cx="466.3" cy="687.8" r="5.5"/><circle cx="473.2" cy="647.9" r="5.5"/><circle cx="462.9" cy="649.5" r="5.5"/><circle cx="475.7" cy="657.0" r="5.5"/><circle cx="472.0" cy="631.3" r="5.5"/><circle cx="473.9" cy="635.9" r="5.5"/><circle cx="471.3" cy="655.7" r="5.5"/><circle cx="472.1" cy="633.6" r="5.5"/><circle cx="466.5" cy="654.8" r="5.5"/><circle cx="464.6" cy="646.5" r="5.5"/><circle cx="468.1" cy="634.4" r="5.5"/><circle cx="472.2" cy="280.7" r="5.5"/><circle cx="464.3" cy="286.1" r="5.5"/><circle cx="463.7" cy="280.9" r="5.5"/><circle cx="471.5" cy="291.9" r="5.5"/><circle cx="476.1" cy="282.1" r="5.5"/><circle cx="469.2" cy="285.0" r="5.5"/><circle cx="470.0" cy="351.7" r="5.5"/><circle cx="474.2" cy="348.5" r="5.5"/><circle cx="463.3" cy="357.5" r="5.5"/><circle cx="464.5" cy="355.7" r="5.5"/><circle cx="468.9" cy="363.5" r="5.5"/><circle cx="469.5" cy="355.4" r="5.5"/><circle cx="465.9" cy="353.4" r="5.5"/><circle cx="465.8" cy="359.0" r="5.5"/><circle cx="482.8" cy="367.0" r="5.5"/><circle cx="478.5" cy="370.6" r="5.5"/><circle cx="486.1" cy="367.7" r="5.5"/><circle cx="485.7" cy="374.8" r="5.5"/><circle cx="476.3" cy="375.0" r="5.5"/><circle cx="464.6" cy="399.7" r="5.5"/><circle cx="475.9" cy="401.3" r="5.5"/><circle cx="482.2" cy="404.7" r="5.5"/><circle cx="469.8" cy="409.2" r="5.5"/><circle cx="463.3" cy="408.2" r="5.5"/><circle cx="463.8" cy="400.1" r="5.5"/><circle cx="477.3" cy="442.0" r="5.5"/><circle cx="466.0" cy="427.9" r="5.5"/><circle cx="477.6" cy="441.6" r="5.5"/><circle cx="475.2" cy="428.5" r="5.5"/><circle cx="472.2" cy="433.9" r="5.5"/><circle cx="466.2" cy="433.3" r="5.5"/><circle cx="485.0" cy="419.0" r="5.5"/><circle cx="492.0" cy="423.0" r="5.5"/><circle cx="478.0" cy="470.0" r="5.5"/><circle cx="484.0" cy="478.0" r="5.5"/><circle cx="488.0" cy="485.0" r="5.5"/><circle cx="470.0" cy="490.0" r="5.5"/><circle cx="483.0" cy="146.0" r="5.5"/><circle cx="482.0" cy="150.0" r="5.5"/><circle cx="488.0" cy="268.0" r="5.5"/><circle cx="466.0" cy="287.0" r="5.5"/><circle cx="470.0" cy="291.0" r="5.5"/><circle cx="465.1" cy="590.1" r="5.5"/><circle cx="472.4" cy="571.1" r="5.5"/><circle cx="465.9" cy="599.3" r="5.5"/><circle cx="475.0" cy="574.1" r="5.5"/><circle cx="470.4" cy="549.2" r="5.5"/><circle cx="462.6" cy="561.4" r="5.5"/><circle cx="471.6" cy="534.2" r="5.5"/><circle cx="474.8" cy="548.9" r="5.5"/><circle cx="466.2" cy="531.8" r="5.5"/><circle cx="478.0" cy="594.5" r="5.5"/><circle cx="476.1" cy="583.4" r="5.5"/><circle cx="463.1" cy="557.6" r="5.5"/><circle cx="470.3" cy="538.4" r="5.5"/><circle cx="477.3" cy="561.2" r="5.5"/><circle cx="465.0" cy="601.6" r="5.5"/><circle cx="464.5" cy="611.5" r="5.5"/><circle cx="469.6" cy="577.7" r="5.5"/><circle cx="467.9" cy="571.6" r="5.5"/><circle cx="465.5" cy="531.3" r="5.5"/><circle cx="475.9" cy="549.1" r="5.5"/><circle cx="474.6" cy="546.8" r="5.5"/><circle cx="477.5" cy="608.5" r="5.5"/><circle cx="472.7" cy="517.9" r="5.5"/><circle cx="470.4" cy="516.9" r="5.5"/><circle cx="464.2" cy="509.3" r="5.5"/><circle cx="473.7" cy="501.0" r="5.5"/><circle cx="475.0" cy="521.6" r="5.5"/><circle cx="468.1" cy="506.0" r="5.5"/><circle cx="468.6" cy="506.6" r="5.5"/><circle cx="475.9" cy="506.6" r="5.5"/></g>
<line x1="164.2" y1="16.0" x2="164.2" y2="713.0" stroke="#000" stroke-width="4"/><line x1="162.2" y1="711.0" x2="835.6" y2="711.0" stroke="#000" stroke-width="4"/><line x1="154.4" y1="711.0" x2="164.2" y2="711.0" stroke="#000" stroke-width="4"/><text x="136" y="721.6" text-anchor="end" class="t">0</text><line x1="154.4" y1="624.1" x2="164.2" y2="624.1" stroke="#000" stroke-width="4"/><text x="136" y="634.7" text-anchor="end" class="t">40</text><line x1="154.4" y1="537.2" x2="164.2" y2="537.2" stroke="#000" stroke-width="4"/><text x="136" y="547.9" text-anchor="end" class="t">80</text><line x1="154.4" y1="450.4" x2="164.2" y2="450.4" stroke="#000" stroke-width="4"/><text x="136" y="461.0" text-anchor="end" class="t">120</text><line x1="154.4" y1="363.5" x2="164.2" y2="363.5" stroke="#000" stroke-width="4"/><text x="136" y="374.1" text-anchor="end" class="t">160</text><line x1="154.4" y1="276.6" x2="164.2" y2="276.6" stroke="#000" stroke-width="4"/><text x="136" y="287.2" text-anchor="end" class="t">200</text><line x1="154.4" y1="189.8" x2="164.2" y2="189.8" stroke="#000" stroke-width="4"/><text x="136" y="200.3" text-anchor="end" class="t">240</text><line x1="154.4" y1="102.9" x2="164.2" y2="102.9" stroke="#000" stroke-width="4"/><text x="136" y="113.5" text-anchor="end" class="t">280</text><line x1="154.4" y1="16.0" x2="164.2" y2="16.0" stroke="#000" stroke-width="4"/><text x="136" y="26.6" text-anchor="end" class="t">320</text><line x1="164.2" y1="711.0" x2="164.2" y2="721.0" stroke="#000" stroke-width="4"/><text x="164.2" y="761" text-anchor="middle" class="t">-6</text><line x1="238.8" y1="711.0" x2="238.8" y2="721.0" stroke="#000" stroke-width="4"/><text x="238.8" y="761" text-anchor="middle" class="t">-4</text><line x1="313.4" y1="711.0" x2="313.4" y2="721.0" stroke="#000" stroke-width="4"/><text x="313.4" y="761" text-anchor="middle" class="t">-2</text><line x1="388.0" y1="711.0" x2="388.0" y2="721.0" stroke="#000" stroke-width="4"/><text x="388.0" y="761" text-anchor="middle" class="t">0</text><line x1="462.6" y1="711.0" x2="462.6" y2="721.0" stroke="#000" stroke-width="4"/><text x="462.6" y="761" text-anchor="middle" class="t">2</text><line x1="537.2" y1="711.0" x2="537.2" y2="721.0" stroke="#000" stroke-width="4"/><text x="537.2" y="761" text-anchor="middle" class="t">4</text><line x1="611.8" y1="711.0" x2="611.8" y2="721.0" stroke="#000" stroke-width="4"/><text x="611.8" y="761" text-anchor="middle" class="t">6</text><line x1="686.4" y1="711.0" x2="686.4" y2="721.0" stroke="#000" stroke-width="4"/><text x="686.4" y="761" text-anchor="middle" class="t">8</text><line x1="761.0" y1="711.0" x2="761.0" y2="721.0" stroke="#000" stroke-width="4"/><text x="761.0" y="761" text-anchor="middle" class="t">10</text><line x1="835.6" y1="711.0" x2="835.6" y2="721.0" stroke="#000" stroke-width="4"/><text x="835.6" y="761" text-anchor="middle" class="t">12</text>
<text class="b" transform="translate(35,498.5) rotate(-90)"><tspan font-size="37">-Log</tspan><tspan font-size="25" dy="10">10</tspan><tspan font-size="25" dy="-20">(Significance)</tspan></text>
<text class="b" x="392.5" y="838.8"><tspan font-size="37">Log</tspan><tspan font-size="26" dy="8.6">2</tspan><tspan font-size="25" dy="-21.2">(foldchange)</tspan></text>
<circle cx="641" cy="337" r="5.8" fill="rgb(84,150,215)" fill-opacity="0.74" stroke="rgb(72,135,200)" stroke-opacity="0.3" stroke-width="1"/>
<text class="t" x="656" y="348" style="font-size:33.5px">Down: 432</text>
<circle cx="641" cy="408" r="5.8" fill="rgb(200,0,12)" fill-opacity="0.64" stroke="rgb(150,20,30)" stroke-opacity="0.35" stroke-width="1"/>
<text class="t" x="657" y="418.2" style="font-size:33.5px">Up: 469</text>
</svg></body></html>
